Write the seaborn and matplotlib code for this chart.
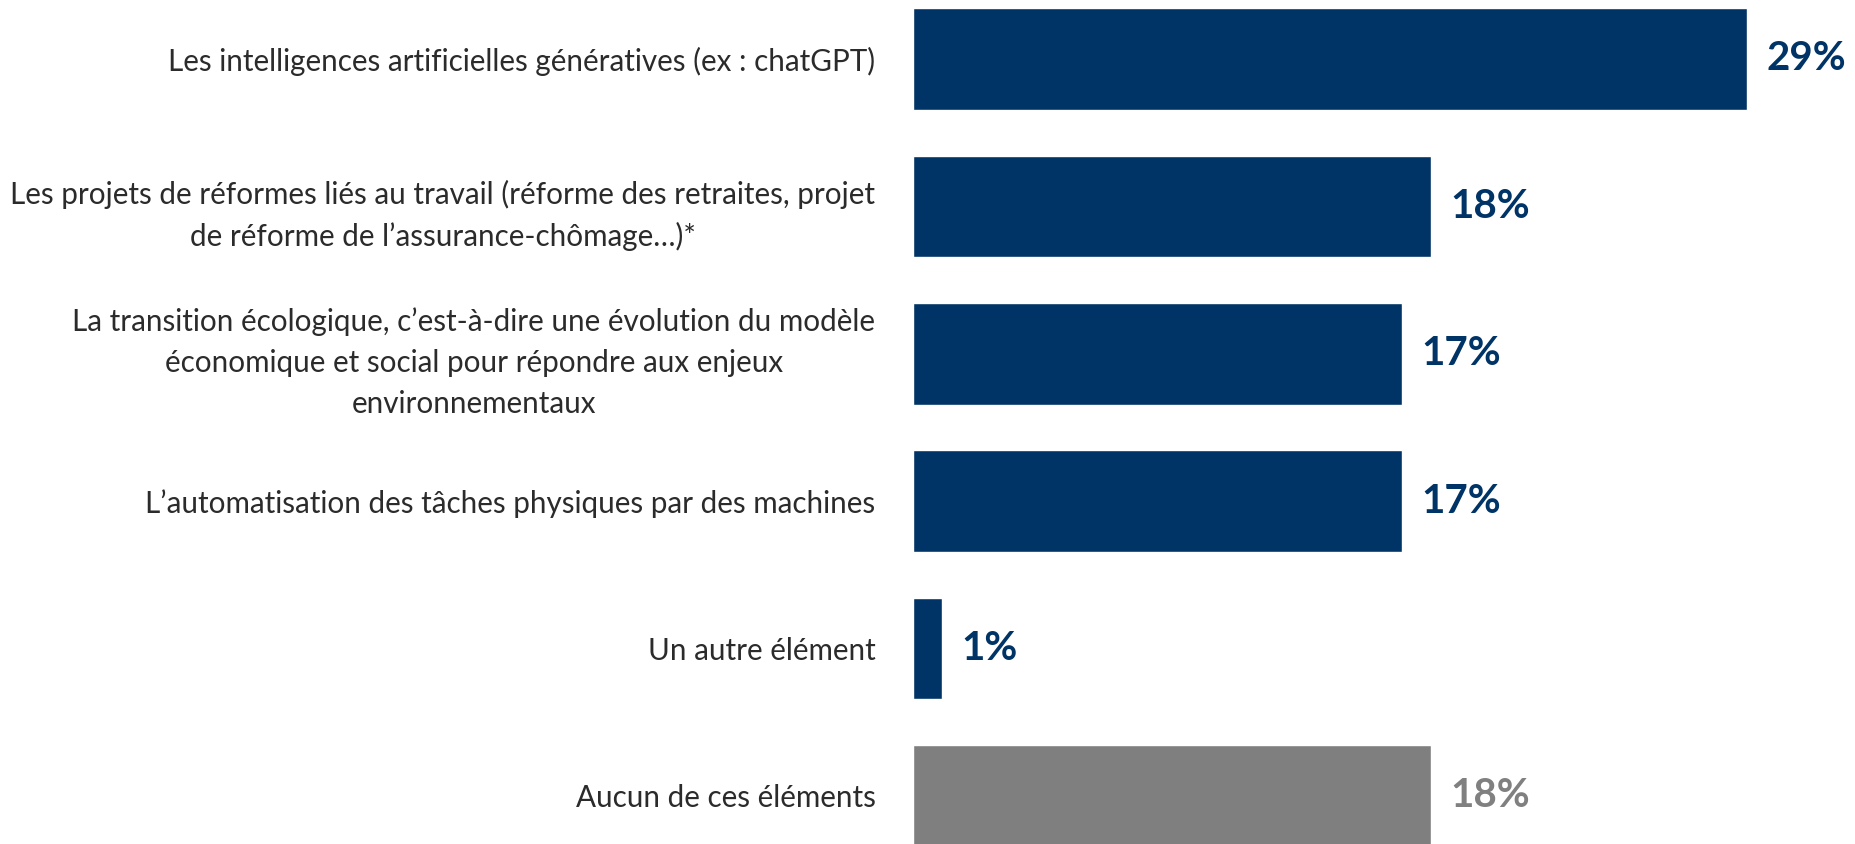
import matplotlib
matplotlib.use("Agg")
import matplotlib.pyplot as plt
import seaborn as sns
import pandas as pd

# Data
categories = [
    "Les intelligences artificielles génératives (ex : chatGPT)",
    "Les projets de réformes liés au travail (réforme des retraites, projet\nde réforme de l\u2019assurance-chômage\u2026)*",
    "La transition écologique, c\u2019est-à-dire une évolution du modèle\néconomique et social pour répondre aux enjeux\nenvironnementaux",
    "L\u2019automatisation des tâches physiques par des machines",
    "Un autre élément",
    "Aucun de ces éléments",
]
values = [29, 18, 17, 17, 1, 18]
value_labels = ["29%", "18%", "17%", "17%", "1%", "18%"]

NAVY = "#003466"
GREY = "#7f7f7f"
bar_colors = [NAVY, NAVY, NAVY, NAVY, NAVY, GREY]
text_colors = [NAVY, NAVY, NAVY, NAVY, NAVY, "#808080"]

df = pd.DataFrame({"categorie": categories, "valeur": values})

sns.set_style("white")
plt.rcParams["font.family"] = ["Lato", "DejaVu Sans"]

fig = plt.figure(figsize=(18.55, 8.44), dpi=100)
ax = fig.add_axes([913 / 1855, 0, 1 - 913 / 1855, 1])

sns.barplot(
    data=df,
    x="valeur",
    y="categorie",
    hue="categorie",
    palette=bar_colors,
    legend=False,
    width=0.69,
    saturation=1,
    ax=ax,
)

# Value labels next to each bar
for i, (v, lab) in enumerate(zip(values, value_labels)):
    ax.annotate(
        lab,
        xy=(v, i),
        xytext=(14, 0),
        textcoords="offset points",
        ha="left",
        va="center",
        fontsize=29,
        fontweight="bold",
        color=text_colors[i],
    )

ax.set_xlim(0, (1855 - 913) / 28.76)
ax.set_ylim(5.326, -0.40)
ax.set_xlabel("")
ax.set_ylabel("")
ax.set_xticks([])
ax.tick_params(axis="y", length=0, pad=27)
for t in ax.get_yticklabels():
    t.set_fontsize(21.3)
    t.set_color("#2b2b2b")
    t.set_multialignment("center")
    t.set_linespacing(1.55)
sns.despine(ax=ax, left=True, bottom=True)

fig.savefig("out.png", dpi=100)
